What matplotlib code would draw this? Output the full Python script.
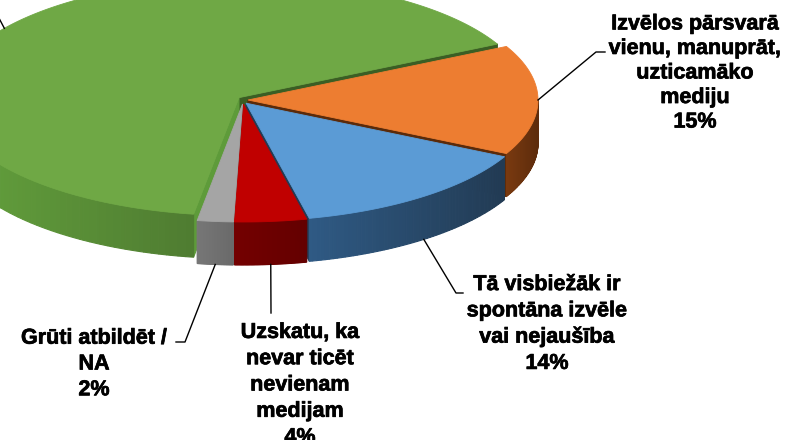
import numpy as np
import matplotlib
matplotlib.use("Agg")
import matplotlib.pyplot as plt
import matplotlib.patheffects as pe
from matplotlib.colors import to_rgb

# ---- data ----
categories = [
    "",  # large green slice, its label lies outside the visible area
    "Izvēlos pārsvarā\nvienu, manuprāt,\nuzticamāko\nmediju",
    "Tā visbiežāk ir\nspontāna izvēle\nvai nejaušība",
    "Uzskatu, ka\nnevar ticēt\nnevienam\nmedijam",
    "Grūti atbildēt /\nNA",
]
values = [65, 15, 14, 4, 2]
top_colors = ["#6FA845", "#ED7D31", "#5B9BD5", "#C00000", "#A5A5A5"]
side_light = ["#64A23D", "#7A3A10", "#2F5A84", "#740000", "#777777"]
side_dark = ["#4F7C31", "#5E2C0C", "#223B54", "#640000", "#6A6A6A"]
radial_lo = ["#3B5E24", "#5A2A0A", "#223B54", "#5A0000", "#606060"]
radial_hi = ["#5E9B3A", "#5A2A0A", "#2A4A6A", "#5A0000", "#606060"]

# ---- layout (pixel space) ----
W, H = 794, 440
cx, cy = 243, 100
rx, ry = 290, 118
depth = 43
explode = 5
start_angle = 27 + 360 * values[0] / 100  # green begins here, going clockwise

label_pos = [None, (695, 73), (547, 324), (300, 385), (94, 364)]
label_spacing = [1.3, 1.22, 1.33, 1.33, 1.3]
leader_elbow = [(-20, -18), (596, 52), (456, 293), (271, 313), (185, 342)]
leader_tail = [None, (605, 52), (463, 293), None, (176, 342)]

fig = plt.figure(figsize=(W / 100, H / 100), dpi=100)
ax = fig.add_axes([0, 0, 1, 1])
ax.set_xlim(0, W)
ax.set_ylim(H, 0)
ax.axis("off")

total = float(sum(values))
slices = []
a = start_angle
for i, v in enumerate(values):
    span = 360 * v / total
    a_hi = a
    a_lo = a - span
    mid = np.radians((a_hi + a_lo) / 2)
    ox = explode * np.cos(mid)
    oy = -explode * np.sin(mid) * 0.8
    slices.append((a_lo, a_hi, ox, oy))
    a = a_lo


def pt(t_deg, ox, oy, dz=0.0):
    t = np.radians(t_deg)
    return cx + ox + rx * np.cos(t), cy + oy - ry * np.sin(t) + dz


walls = []  # (mean_y, list of (polygon, color))
tops = []
for i, (a_lo, a_hi, ox, oy) in enumerate(slices):
    ts = np.linspace(a_lo, a_hi, 300)
    front = ts[np.sin(np.radians(ts)) <= 0.001]
    if len(front) > 1:
        xs_front = np.array([pt(t, ox, oy)[0] for t in front])
        xmin, xmax = xs_front.min(), xs_front.max()
        c1, c2 = np.array(to_rgb(side_light[i])), np.array(to_rgb(side_dark[i]))
        pieces = []
        nseg = 60
        idx = np.linspace(0, len(front) - 1, nseg + 1).astype(int)
        ys_all = []
        for k in range(nseg):
            seg = front[idx[k]:idx[k + 1] + 1]
            if len(seg) < 2:
                continue
            topp = [pt(t, ox, oy) for t in seg]
            botp = [pt(t, ox, oy, depth) for t in seg[::-1]]
            poly = np.array(topp + botp)
            f = (poly[:, 0].mean() - xmin) / max(xmax - xmin, 1)
            col = c1 + (c2 - c1) * f
            pieces.append((poly, col))
            ys_all.append(poly[:, 1].mean())
        walls.append((np.mean(ys_all), pieces))
    c0 = (cx + ox, cy + oy)
    for edge, vis, col in ((a_lo, np.cos(np.radians(a_lo)) > 0, radial_lo[i]),
                           (a_hi, np.cos(np.radians(a_hi)) < 0, radial_hi[i])):
        if vis:
            e0 = pt(edge, ox, oy)
            e1 = pt(edge, ox, oy, depth)
            poly = np.array([c0, e0, e1, (c0[0], c0[1] + depth)])
            walls.append((poly[:, 1].mean() - 30, [(poly, col)]))
    top = np.array([c0] + [pt(t, ox, oy) for t in ts])
    tops.append((top, top_colors[i]))

for _, pieces in sorted(walls, key=lambda w: w[0]):
    for poly, col in pieces:
        ax.fill(poly[:, 0], poly[:, 1], color=col, lw=0.8, ec=col, zorder=2)
for poly, col in tops:
    ax.fill(poly[:, 0], poly[:, 1], color=col, lw=0.6, ec=col, zorder=3)

# ---- labels and leader lines ----
for i, (a_lo, a_hi, ox, oy) in enumerate(slices):
    mid = (a_lo + a_hi) / 2
    if np.sin(np.radians(mid)) < 0:
        sx, sy = pt(mid, ox, oy, depth)
    else:
        sx, sy = pt(mid, ox, oy)
    xs = [sx, leader_elbow[i][0]]
    ys = [sy, leader_elbow[i][1]]
    if leader_tail[i] is not None:
        xs.append(leader_tail[i][0])
        ys.append(leader_tail[i][1])
    ax.plot(xs, ys, color="black", lw=1.0, zorder=4, clip_on=True)
    if label_pos[i] is not None:
        txt = categories[i] + "\n" + f"{values[i]}%"
        ax.text(label_pos[i][0], label_pos[i][1], txt, zorder=5,
                family=["Liberation Sans", "DejaVu Sans"], fontsize=15.5,
                fontweight="bold", color="black", ha="center", va="center",
                linespacing=label_spacing[i],
                path_effects=[pe.withStroke(linewidth=0.5, foreground="black")])

fig.savefig("out.png", dpi=100)
